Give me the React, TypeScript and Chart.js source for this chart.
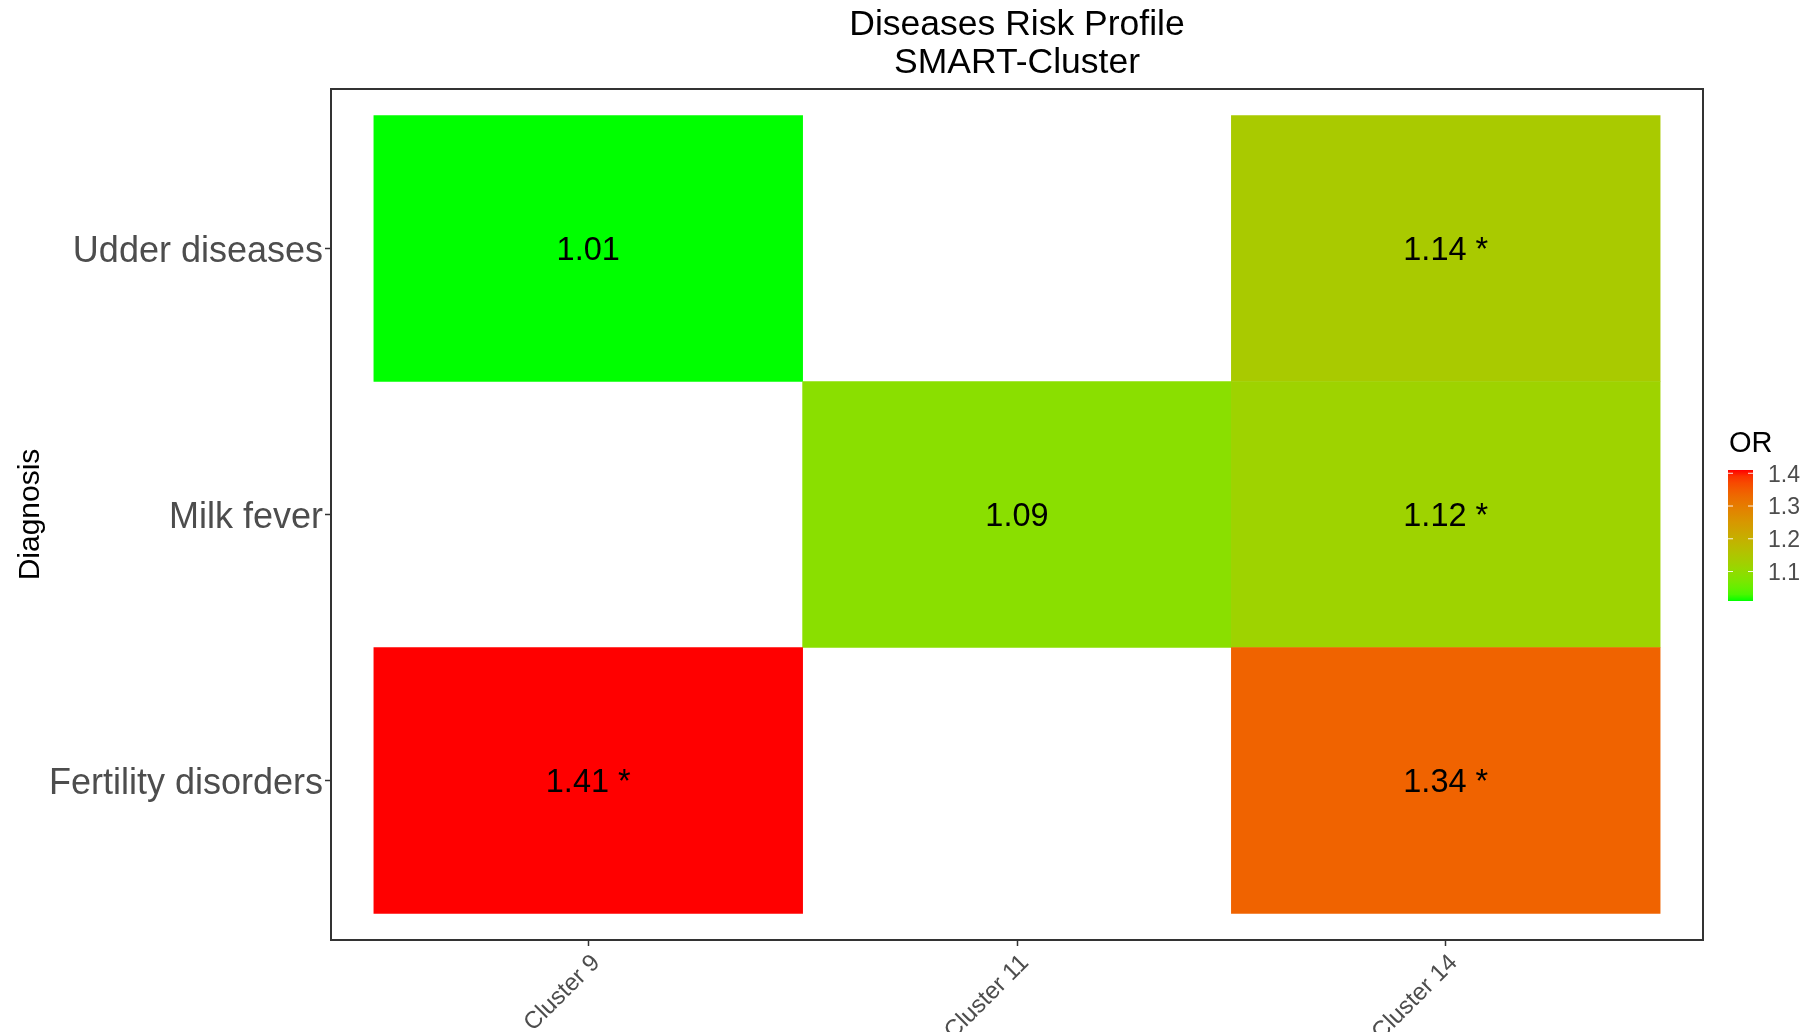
import React, { useEffect, useRef } from "react";
import { Chart, registerables } from "chart.js";

Chart.register(...registerables);

// ---- data ----
const clusters = ["Cluster 9", "Cluster 11", "Cluster 14"];
// bottom to top
const diagnoses = ["Fertility disorders", "Milk fever", "Udder diseases"];
const fertilityOR: (number | null)[] = [1.41, null, 1.34];
const milkFeverOR: (number | null)[] = [null, 1.09, 1.12];
const udderOR: (number | null)[] = [1.01, null, 1.14];
const fertilitySig = [true, false, true];
const milkFeverSig = [false, false, true];
const udderSig = [false, false, true];
const legendTicks = [1.1, 1.2, 1.3, 1.4];

const titleLines = ["Diseases Risk Profile", "SMART-Cluster"];
const legendTitle = "OR";
const yTitle = "Diagnosis";

const FONT = "'Liberation Sans', Arial, Helvetica, sans-serif";

const rows = [
  { values: fertilityOR, sig: fertilitySig },
  { values: milkFeverOR, sig: milkFeverSig },
  { values: udderOR, sig: udderSig },
];

const allValues = rows.flatMap((r) => r.values).filter((v): v is number => v != null);
const orMin = Math.min(...allValues);
const orMax = Math.max(...allValues);

// ---- colour ramp (green -> red, interpolated in CIELAB) ----
type Lab = [number, number, number];
const Xn = 0.95047, Yn = 1.0, Zn = 1.08883;
function toLin(c: number) {
  c /= 255;
  return c <= 0.04045 ? c / 12.92 : Math.pow((c + 0.055) / 1.055, 2.4);
}
function fromLin(c: number) {
  const v = c <= 0.0031308 ? 12.92 * c : 1.055 * Math.pow(c, 1 / 2.4) - 0.055;
  return Math.round(Math.max(0, Math.min(1, v)) * 255);
}
function rgbToLab(r: number, g: number, b: number): Lab {
  const R = toLin(r), G = toLin(g), B = toLin(b);
  const X = 0.4124564 * R + 0.3575761 * G + 0.1804375 * B;
  const Y = 0.2126729 * R + 0.7151522 * G + 0.072175 * B;
  const Z = 0.0193339 * R + 0.119192 * G + 0.9503041 * B;
  const f = (t: number) => (t > 0.008856 ? Math.cbrt(t) : 7.787 * t + 16 / 116);
  const fx = f(X / Xn), fy = f(Y / Yn), fz = f(Z / Zn);
  return [116 * fy - 16, 500 * (fx - fy), 200 * (fy - fz)];
}
function labToRgb([L, a, b]: Lab): string {
  const fy = (L + 16) / 116;
  const fx = fy + a / 500;
  const fz = fy - b / 200;
  const finv = (t: number) => (t * t * t > 0.008856 ? t * t * t : (t - 16 / 116) / 7.787);
  const X = Xn * finv(fx), Y = Yn * finv(fy), Z = Zn * finv(fz);
  const r = 3.2404542 * X - 1.5371385 * Y - 0.4985314 * Z;
  const g = -0.969266 * X + 1.8760108 * Y + 0.041556 * Z;
  const bb = 0.0556434 * X - 0.2040259 * Y + 1.0572252 * Z;
  return `rgb(${fromLin(r)}, ${fromLin(g)}, ${fromLin(bb)})`;
}
const lowLab = rgbToLab(0, 255, 0);
const highLab = rgbToLab(255, 0, 0);
function rampAt(t: number): string {
  const k = Math.max(0, Math.min(1, t));
  return labToRgb([
    lowLab[0] + (highLab[0] - lowLab[0]) * k,
    lowLab[1] + (highLab[1] - lowLab[1]) * k,
    lowLab[2] + (highLab[2] - lowLab[2]) * k,
  ]);
}
function fillFor(v: number) {
  return rampAt((v - orMin) / (orMax - orMin));
}

// ---- plugins ----
const cellLabels = {
  id: "cellLabels",
  afterDatasetsDraw(chart: any) {
    const { ctx } = chart;
    ctx.save();
    ctx.font = `32.5px ${FONT}`;
    ctx.fillStyle = "#000000";
    ctx.textAlign = "center";
    ctx.textBaseline = "middle";
    chart.data.datasets.forEach((ds: any, i: number) => {
      const meta = chart.getDatasetMeta(i);
      meta.data.forEach((el: any, j: number) => {
        const raw = ds.data[j];
        const text = raw.or.toFixed(2) + (raw.sig ? " *" : "");
        ctx.fillText(text, el.x, (el.y + el.base) / 2 + 2.5);
      });
    });
    ctx.restore();
  },
};

const frameTitleLegend = {
  id: "frameTitleLegend",
  afterDraw(chart: any) {
    const { ctx, chartArea } = chart;
    const { left, right, top, bottom } = chartArea;
    ctx.save();

    // panel border
    ctx.strokeStyle = "#333333";
    ctx.lineWidth = 2;
    ctx.strokeRect(left, top, right - left, bottom - top);

    // title
    ctx.fillStyle = "#000000";
    ctx.font = `35.5px ${FONT}`;
    ctx.textAlign = "center";
    ctx.textBaseline = "middle";
    const cx = (left + right) / 2;
    ctx.fillText(titleLines[0], cx, 25.5);
    ctx.fillText(titleLines[1], cx, 63.5);

    // colour bar legend
    const mid = (top + bottom) / 2;
    const barX = right + 25;
    const barW = 25;
    const barTop = mid - 44.5;
    const barBottom = mid + 86.5;
    const grad = ctx.createLinearGradient(0, barBottom, 0, barTop);
    for (let s = 0; s <= 20; s++) grad.addColorStop(s / 20, rampAt(s / 20));
    ctx.fillStyle = grad;
    ctx.fillRect(barX, barTop, barW, barBottom - barTop);

    ctx.fillStyle = "#000000";
    ctx.font = `29px ${FONT}`;
    ctx.textAlign = "left";
    ctx.textBaseline = "middle";
    ctx.fillText(legendTitle, barX + 1, barTop - 26);

    ctx.font = `23px ${FONT}`;
    ctx.fillStyle = "#4D4D4D";
    ctx.strokeStyle = "rgba(255,255,255,0.9)";
    ctx.lineWidth = 1;
    legendTicks.forEach((t) => {
      const y = barBottom - ((t - orMin) / (orMax - orMin)) * (barBottom - barTop);
      ctx.beginPath();
      ctx.moveTo(barX, y);
      ctx.lineTo(barX + 5, y);
      ctx.moveTo(barX + barW - 5, y);
      ctx.lineTo(barX + barW, y);
      ctx.stroke();
      ctx.fillText(t.toFixed(1), barX + 40, y + 2);
    });

    ctx.restore();
  },
};

export default function App() {
  const canvasRef = useRef<HTMLCanvasElement | null>(null);

  useEffect(() => {
    const canvas = canvasRef.current;
    if (!canvas) return;

    const datasets = rows.map((row, r) => ({
      label: diagnoses[r],
      data: row.values
        .map((v, c) => (v == null ? null : { x: c + 1, y: [r + 0.5, r + 1.5], or: v, sig: row.sig[c] }))
        .filter((d) => d != null),
      backgroundColor: (ctx: any) => (ctx.raw ? fillFor(ctx.raw.or) : "transparent"),
      borderWidth: 0,
      barPercentage: 1,
      categoryPercentage: 1,
      grouped: false,
    }));

    const chart = new Chart(canvas, {
      type: "bar",
      data: { datasets: datasets as any },
      options: {
        responsive: false,
        animation: false,
        devicePixelRatio: 1,
        events: [],
        layout: { padding: { top: 89, right: 101, left: 0, bottom: 0 } },
        plugins: {
          legend: { display: false },
          tooltip: { enabled: false },
          title: { display: false },
        },
        scales: {
          x: {
            type: "linear",
            min: 0.4,
            max: 3.6,
            offset: false,
            afterBuildTicks: (scale: any) => {
              scale.ticks = clusters.map((_, i) => ({ value: i + 1 }));
            },
            afterFit: (scale: any) => {
              scale.height = 92;
            },
            ticks: {
              autoSkip: false,
              minRotation: 45,
              maxRotation: 45,
              padding: 3,
              labelOffset: 8,
              color: "#4D4D4D",
              font: { family: FONT, size: 24 },
              callback: (v: any) => clusters[Number(v) - 1] ?? "",
            },
            grid: {
              display: true,
              offset: false,
              drawOnChartArea: false,
              drawTicks: true,
              tickLength: 6,
              tickColor: "#333333",
              tickWidth: 1.5,
            },
            border: { display: false },
          },
          y: {
            type: "linear",
            min: 0.4,
            max: 3.6,
            offset: false,
            afterBuildTicks: (scale: any) => {
              scale.ticks = diagnoses.map((_, i) => ({ value: i + 1 }));
            },
            afterFit: (scale: any) => {
              scale.width = 331;
            },
            ticks: {
              autoSkip: false,
              padding: 2,
              labelOffset: 3.5,
              color: "#4D4D4D",
              font: { family: FONT, size: 36 },
              callback: (v: any) => diagnoses[Number(v) - 1] ?? "",
            },
            grid: {
              display: true,
              offset: false,
              drawOnChartArea: false,
              drawTicks: true,
              tickLength: 6,
              tickColor: "#333333",
              tickWidth: 1.5,
            },
            border: { display: false },
            title: {
              display: true,
              text: yTitle,
              color: "#000000",
              font: { family: FONT, size: 30 },
              padding: { top: 13, bottom: 0 },
            },
          },
        },
      },
      plugins: [cellLabels, frameTitleLegend],
    });

    return () => chart.destroy();
  }, []);

  return (
    <div style={{ position: "absolute", left: 0, top: 0, width: 1804, height: 1032, background: "#ffffff" }}>
      <canvas ref={canvasRef} width={1804} height={1032} style={{ display: "block" }} />
    </div>
  );
}
